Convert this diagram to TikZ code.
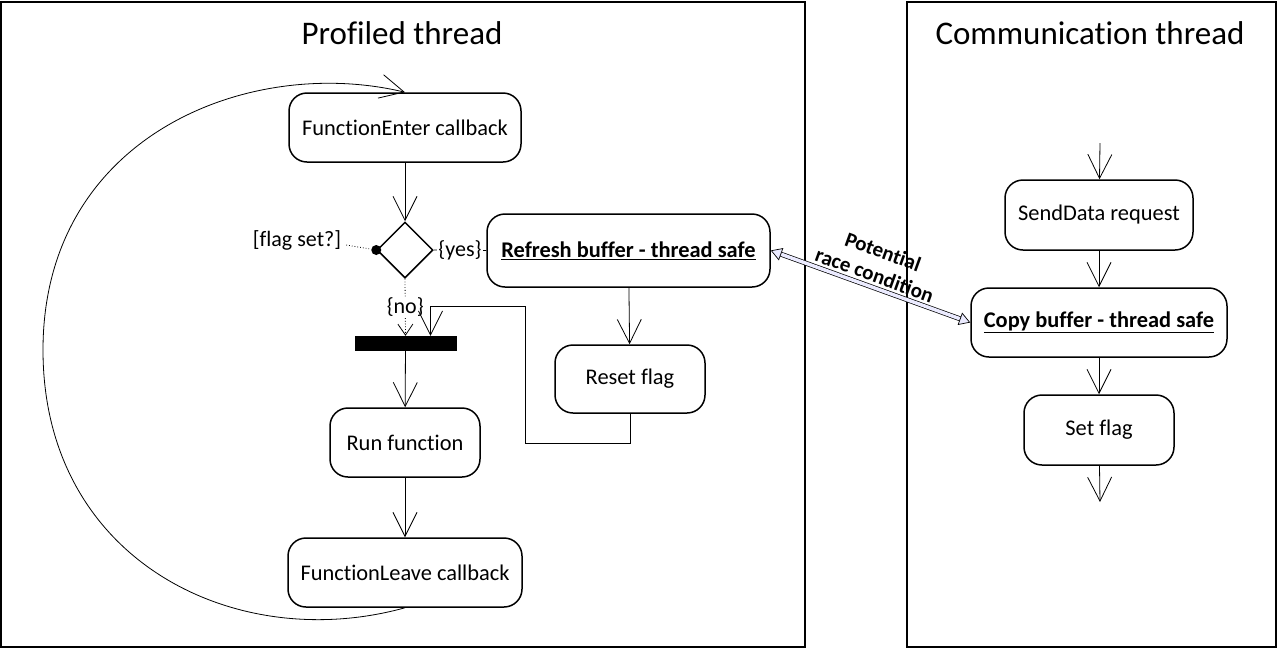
\documentclass[tikz,border=0pt]{standalone}
\usepackage{fontspec}
\setmainfont{Carlito}[Ligatures=NoCommon]
\usetikzlibrary{arrows.meta, shapes.geometric}

\begin{document}
\begin{tikzpicture}[x=1pt, y=-1pt,
    lane/.style={draw, line width=1.3pt, inner sep=0pt},
    lanetitle/.style={font=\fontsize{33}{38}\selectfont},
    action/.style={draw, rounded corners=18pt, line width=1.5pt, align=center, font=\fontsize{22.4}{26}\selectfont},
    guard/.style={font=\fontsize{22}{26}\selectfont, inner sep=1pt},
    flow/.style={-{Straight Barb[length=24pt, width=24pt]}, line width=0.8pt},
    race/.style={{Triangle[open, fill=blue!8, length=11pt, width=13pt]}-{Triangle[open, fill=blue!8, length=11pt, width=13pt]}, double=blue!8, double distance=3.5pt, line width=0.7pt},
]
  \useasboundingbox (0,0) rectangle (1278,649);

  % swim lanes
  \node[lane, minimum width=804pt, minimum height=645pt] (prof) at (403,324.5) {};
  \node[lane, minimum width=369pt, minimum height=645pt] (comm) at (1091.5,324.5) {};
  \node[lanetitle] (proftitle) at (402,33) {Profiled thread};
  \node[lanetitle] (commtitle) at (1090,33) {Communication thread};

  % profiled thread
  \node[action, minimum width=232pt, minimum height=69pt] (enter) at (405,127.5) {FunctionEnter callback};
  \node[diamond, draw, line width=1.5pt, minimum size=56pt, inner sep=0pt] (check) at (405,250) {};
  \node[circle, fill, inner sep=0pt, minimum size=10pt] (dot) at (check.west) {};
  \node[guard] (flagset) at (297,240) {[flag set?]};
  \node[action, minimum width=283pt, minimum height=73pt] (refresh) at (628.5,250.5) {\underline{\textbf{Refresh buffer - thread safe}}};
  \node[draw, fill, minimum width=101pt, minimum height=14pt, inner sep=0pt] (join) at (405.5,343) {};
  \node[action, minimum width=150pt, minimum height=68pt] (reset) at (630,379) {Reset flag};
  \node[action, minimum width=150pt, minimum height=69pt] (run) at (405,442.5) {Run function};
  \node[action, minimum width=234pt, minimum height=69pt] (leave) at (405,572.5) {FunctionLeave callback};

  \draw[flow] (enter) -- (check);
  \draw[dotted, line width=0.8pt] (flagset.east) ++(4,5) -- (dot);
  \draw[line width=0.8pt] (check.east) -- node[guard, fill=white, pos=0.5] {\{yes\}} (refresh.west);
  \draw[dotted, line width=0.8pt, -{Straight Barb[length=11pt, width=15pt]}] (check.south) -- node[guard, fill=white, pos=0.5] {\{no\}} (join.north);
  \draw[flow] (refresh) -- (reset);
  \draw[flow] (reset.south) -- ++(0,30) -| (525,306) -| ([xshift=25pt]join.north);
  \draw[flow] (join) -- (run);
  \draw[flow] (run) -- (leave);
  \draw[flow] (leave.south) .. controls (235,655) and (43,560) .. (43,350) .. controls (43,135) and (250,55) .. (enter.north);

  % communication thread
  \coordinate (commin) at (1100,143);
  \coordinate (commout) at (1100,502);
  \node[action, minimum width=188pt, minimum height=70pt] (send) at (1099,215) {SendData request};
  \node[action, minimum width=256pt, minimum height=69pt] (copy) at (1099,322.5) {\underline{\textbf{Copy buffer - thread safe}}};
  \node[action, minimum width=150pt, minimum height=70pt] (setflag) at (1099,430) {Set flag};

  \draw[flow] (commin) -- (send);
  \draw[flow] (send) -- (copy);
  \draw[flow] (copy) -- (setflag);
  \draw[flow] (setflag) -- (commout);

  % conflict between the threads
  \draw[race] (refresh.east) -- node[sloped, above=1pt, align=center, font=\bfseries\fontsize{21}{25}\selectfont] {Potential\\race condition} (copy.west);
\end{tikzpicture}
\end{document}
